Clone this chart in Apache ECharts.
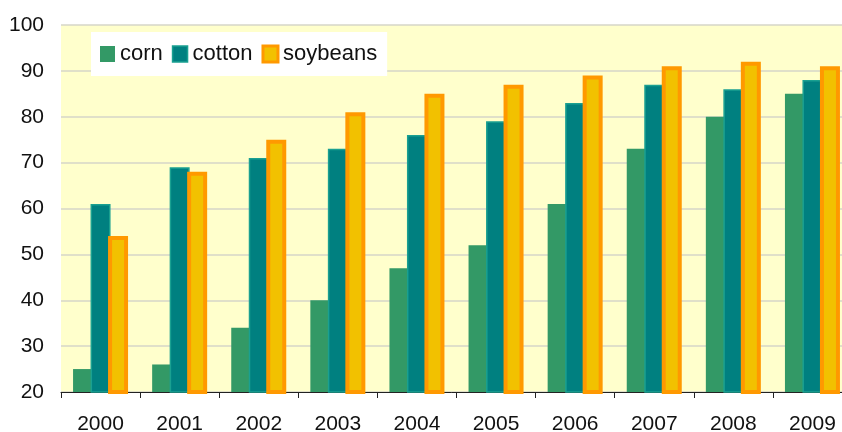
<!DOCTYPE html>
<html>
<head>
<meta charset="utf-8">
<script src="https://cdn.jsdelivr.net/npm/echarts@6/dist/echarts.min.js"></script>
<style>
  html, body { margin: 0; padding: 0; background: #ffffff; }
  #chart { width: 842px; height: 432px; }
</style>
</head>
<body>
<div id="chart"></div>
<script>
// Adoption share (%) by crop and year
const years = ['2000', '2001', '2002', '2003', '2004', '2005', '2006', '2007', '2008', '2009'];
const corn = [25, 26, 34, 40, 47, 52, 61, 73, 80, 85];
const cotton = [61, 69, 71, 73, 76, 79, 83, 87, 86, 88];
const soybeans = [54, 68, 75, 81, 85, 87, 89, 91, 92, 91];

const FONT = '"Liberation Sans", Arial, Helvetica, sans-serif';

const chart = echarts.init(document.getElementById('chart'), null, { renderer: 'canvas' });

chart.setOption({
  animation: false,
  backgroundColor: '#ffffff',
  textStyle: { fontFamily: FONT },
  grid: {
    left: 61,
    top: 25,
    bottom: 40,
    width: 791,
    containLabel: false,
    outerBoundsMode: 'none',
    show: true,
    backgroundColor: '#FFFFCC',
    borderWidth: 0
  },
  legend: {
    left: 91,
    top: 32,
    orient: 'horizontal',
    backgroundColor: '#ffffff',
    padding: [11, 10, 11, 9],
    itemGap: 9,
    itemWidth: 15,
    itemHeight: 16,
    icon: 'rect',
    textStyle: { fontFamily: FONT, fontSize: 22, color: '#111' },
    data: [
      { name: 'corn', itemStyle: { color: '#339966', borderWidth: 0 } },
      { name: 'cotton', itemStyle: { color: '#008080', borderColor: '#1AA091', borderWidth: 1.5 } },
      { name: 'soybeans', itemStyle: { color: '#F2C100', borderColor: '#FF9900', borderWidth: 3 } }
    ]
  },
  xAxis: {
    type: 'category',
    data: years,
    boundaryGap: true,
    axisLine: { lineStyle: { color: '#222', width: 1 } },
    axisTick: { show: true, length: 6, lineStyle: { color: '#222' } },
    axisLabel: { color: '#111', fontSize: 21, fontFamily: FONT, margin: 22 },
    splitLine: { show: false }
  },
  yAxis: {
    type: 'value',
    min: 20,
    max: 100,
    interval: 10,
    axisLine: { show: false },
    axisTick: { show: false },
    axisLabel: { color: '#111', fontSize: 21, fontFamily: FONT, margin: 17 },
    splitLine: { lineStyle: { color: '#D6D6C8', width: 1.5 } }
  },
  series: [
    {
      name: 'corn',
      type: 'bar',
      data: corn,
      barWidth: 20,
      barGap: '-12.5%',
      itemStyle: { color: '#339966' }
    },
    {
      name: 'cotton',
      type: 'bar',
      data: cotton,
      barWidth: 20,
      barGap: '-12.5%',
      itemStyle: { color: '#008080', borderColor: '#1AA091', borderWidth: 1.5 }
    },
    {
      name: 'soybeans',
      type: 'bar',
      data: soybeans,
      barWidth: 20,
      barGap: '-12.5%',
      itemStyle: { color: '#F2C100', borderColor: '#FF9900', borderWidth: 4 }
    }
  ]
});
</script>
</body>
</html>
